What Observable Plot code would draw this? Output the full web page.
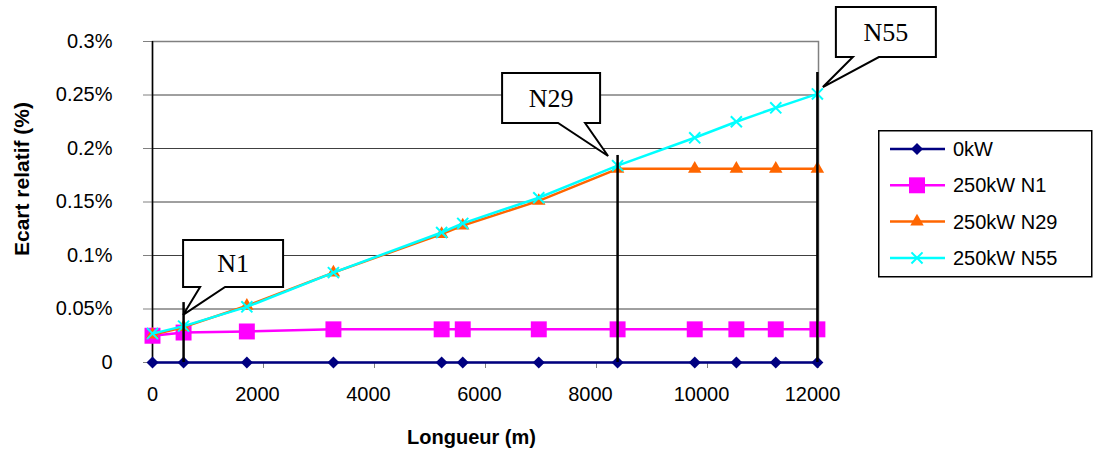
<!DOCTYPE html>
<html><head><meta charset="utf-8">
<script src="https://cdn.jsdelivr.net/npm/d3@7"></script>
<script src="https://cdn.jsdelivr.net/npm/@observablehq/plot@0.6"></script>
<style>
body{margin:0;background:#fff;}
#wrap{position:relative;width:1096px;height:450px;font-family:"Liberation Sans",Arial,sans-serif;}
</style></head><body><div id="wrap"></div>
<script>
// ---- data ----
const lengths = [0, 560, 1700, 3260, 5210, 5590, 6960, 8380, 9770, 10520, 11230, 11980];
const series0kW  = [0, 0, 0, 0, 0, 0, 0, 0, 0, 0, 0, 0];
const seriesN1   = [0.025, 0.028, 0.029, 0.031, 0.031, 0.031, 0.031, 0.031, 0.031, 0.031, 0.031, 0.031];
const seriesN29  = [0.026, 0.033, 0.053, 0.084, 0.120, 0.128, 0.151, 0.181, 0.181, 0.181, 0.181, 0.181];
const seriesN55  = [0.027, 0.034, 0.052, 0.084, 0.1215, 0.130, 0.154, 0.184, 0.210, 0.225, 0.238, 0.251];
const seriesNames = ["0kW", "250kW N1", "250kW N29", "250kW N55"];
const xTicks = [0, 2000, 4000, 6000, 8000, 10000, 12000];
const yTicks = [0, 0.05, 0.1, 0.15, 0.2, 0.25, 0.3];
const yTickLabels = ["0", "0.05%", "0.1%", "0.15%", "0.2%", "0.25%", "0.3%"];
const calloutLabels = ["N1", "N29", "N55"];
const calloutX = [560, 8380, 11980];
const calloutLineTop = [0.056, 0.1935, 0.271];
const calloutTipY = [0.044, 0.1925, 0.257];
const xTitle = "Longueur (m)";
const yTitle = "Ecart relatif (%)";

// ---- styles ----
const colors = ["#000080", "#FF00FF", "#FF6600", "#00FFFF"];
const symbols = ["diamond2", "square", "triangle", "times"];
const radii = [5.4, 9, 5, 5.1];
const calloutLayout = [
  {tipDx: 0,  left: 0,    right: 100, top: -75, bottom: -28, baseL: 17,  baseR: 42},
  {tipDx: -9, left: -106, right: -8,  top: -83, bottom: -33, baseL: -50, baseR: -23},
  {tipDx: 6,  left: 13,   right: 113, top: -80, bottom: -30, baseL: 30,  baseR: 56}
];

const allSeries = [series0kW, seriesN1, seriesN29, seriesN55];
const rows = allSeries.map((vals, k) => lengths.map((x, i) => ({x, y: vals[i], s: seriesNames[k]})));

const seriesMarks = [];
rows.forEach((data, k) => {
  seriesMarks.push(Plot.line(data, {x: "x", y: "y", stroke: colors[k], strokeWidth: 2.5}));
  const isStroke = symbols[k] === "times";
  seriesMarks.push(Plot.dot(data, {
    x: "x", y: "y", symbol: symbols[k], r: radii[k],
    fill: isStroke ? "none" : colors[k],
    stroke: isStroke ? colors[k] : "none",
    strokeWidth: isStroke ? 2 : 0
  }));
});

function callouts(index, scales) {
  const g = d3.create("svg:g").attr("aria-label", "callouts");
  calloutLabels.forEach((lab, i) => {
    const L = calloutLayout[i];
    const tx = scales.x(calloutX[i]) + L.tipDx, ty = scales.y(calloutTipY[i]);
    const pts = [[L.left, L.top], [L.right, L.top], [L.right, L.bottom], [L.baseR, L.bottom], [0, 0], [L.baseL, L.bottom], [L.left, L.bottom]];
    g.append("path")
      .attr("d", "M" + pts.map(p => (tx + p[0]) + "," + (ty + p[1])).join("L") + "Z")
      .attr("fill", "white").attr("stroke", "black").attr("stroke-width", 2).attr("stroke-linejoin", "miter");
    g.append("text")
      .attr("x", tx + (L.left + L.right) / 2).attr("y", ty + (L.top + L.bottom) / 2)
      .attr("text-anchor", "middle").attr("dominant-baseline", "central")
      .attr("font-family", "'Liberation Serif','Times New Roman',serif").attr("font-size", 26)
      .attr("fill", "black").text(lab);
  });
  return g.node();
}

const chart = Plot.plot({
  width: 1096, height: 450,
  marginLeft: 152, marginRight: 278, marginTop: 41, marginBottom: 88,
  style: {fontFamily: "'Liberation Sans', Arial, sans-serif", fontSize: "20px", color: "black", background: "white"},
  x: {domain: [0, 12000]},
  y: {domain: [0, 0.3]},
  marks: [
    Plot.frame({stroke: "#808080", strokeWidth: 1.5}),
    Plot.ruleY(yTicks.filter(d => d > 0 && d < 0.3), {stroke: "#404040", strokeWidth: 1}),
    Plot.axisY(yTicks, {tickSize: 9, tickPadding: 31, stroke: "#808080", tickFormat: (d, i) => yTickLabels[i], fontSize: 20, label: null}),
    Plot.axisX(xTicks, {tickSize: 6, stroke: "#808080", tickFormat: () => "", label: null}),
    Plot.axisX(xTicks.filter(d => d === 0), {tickSize: 0, tickPadding: 24, tickFormat: d => String(d), fontSize: 20, label: null}),
    Plot.axisX(xTicks.filter(d => d > 0), {tickSize: 0, tickPadding: 24, dx: -6, tickFormat: d => String(d), fontSize: 20, label: null}),
    Plot.ruleX([0], {y1: 0, y2: 0.3, stroke: "black", strokeWidth: 1.5}),
    Plot.text([xTitle], {frameAnchor: "bottom", dx: -14, dy: 75, fontWeight: "bold", fontSize: 20, textAnchor: "middle", lineAnchor: "middle"}),
    Plot.text([yTitle], {frameAnchor: "left", dx: -130, dy: -23, rotate: -90, fontWeight: "bold", fontSize: 21, textAnchor: "middle", lineAnchor: "middle"}),
    ...seriesMarks,
    Plot.ruleX(calloutX.map((x, i) => ({x, top: calloutLineTop[i]})), {x: "x", y1: 0, y2: "top", stroke: "black", strokeWidth: 2.5}),
    callouts
  ]
});
document.getElementById("wrap").appendChild(chart);

// ---- legend ----
const legend = d3.select("#wrap").append("svg")
  .style("position", "absolute").style("left", "878px").style("top", "130px")
  .attr("width", 216).attr("height", 148);
legend.append("rect").attr("x", 0.75).attr("y", 0.75).attr("width", 213).attr("height", 146)
  .attr("fill", "white").attr("stroke", "black").attr("stroke-width", 1.5);
const d3types = {diamond2: d3.symbolDiamond2, square: d3.symbolSquare, triangle: d3.symbolTriangle, times: d3.symbolTimes};
seriesNames.forEach((name, k) => {
  const cy = 19 + k * 36.3;
  const g = legend.append("g");
  g.append("line").attr("x1", 12).attr("x2", 67).attr("y1", cy).attr("y2", cy)
    .attr("stroke", colors[k]).attr("stroke-width", 2.5);
  const isStroke = symbols[k] === "times";
  g.append("path").attr("transform", `translate(39,${cy})`)
    .attr("d", d3.symbol(d3types[symbols[k]], Math.PI * radii[k] * radii[k])())
    .attr("fill", isStroke ? "none" : colors[k])
    .attr("stroke", isStroke ? colors[k] : "none").attr("stroke-width", 2);
  g.append("text").attr("x", 75).attr("y", cy).attr("dominant-baseline", "central")
    .attr("font-family", "'Liberation Sans', Arial, sans-serif").attr("font-size", 20).text(name);
});
</script></body></html>
